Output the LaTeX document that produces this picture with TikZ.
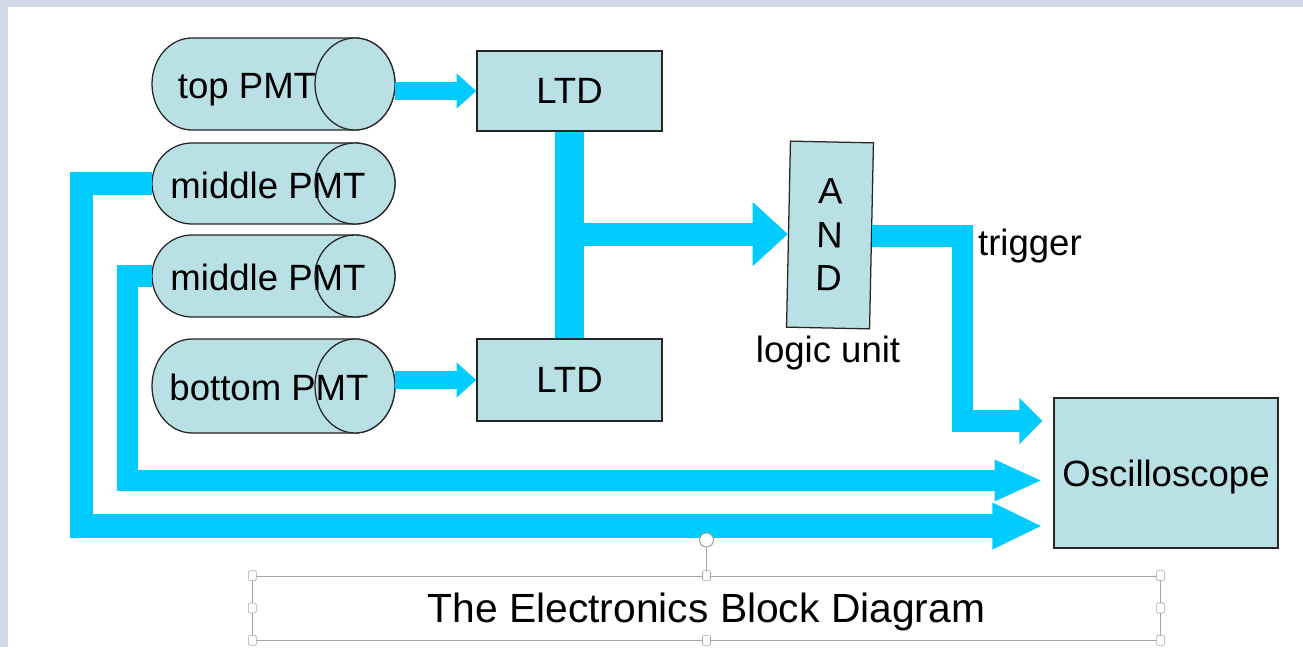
\documentclass[tikz,border=0pt]{standalone}
\usepackage{fontspec}
\setmainfont{Liberation Sans}
\usetikzlibrary{arrows.meta,positioning}

\definecolor{boxfill}{RGB}{185,224,228}
\definecolor{sigcyan}{RGB}{0,204,255}
\definecolor{bgblue}{RGB}{206,216,230}
\definecolor{handlegray}{RGB}{165,165,165}

\newcommand*{\lblsize}{\fontsize{26}{31}\selectfont}
\newcommand*{\titlesize}{\fontsize{29}{34}\selectfont}

% PMT tube lying on its side: name, centre y, half height, label x, label
\newcommand*{\pmt}[5]{%
	\filldraw[tube] (192,#2+#3) -- (355,#2+#3) arc (90:-90:40 and #3)
		-- (192,#2-#3) arc (270:90:40 and #3) -- cycle;
	\draw[tube] (355,#2) ellipse (40 and #3);
	\node[lbl,text depth=0pt] (#1) at (#4,#2-1.5) {#5};
	\coordinate (#1-in) at (152,#2);
	\coordinate (#1-out) at (395,#2);
}

\begin{document}
\begin{tikzpicture}
[
	x=0.025cm, y=0.025cm,
	tube/.style={draw=black!85,fill=boxfill,line width=0.9pt},
	lbl/.style={font=\lblsize,inner sep=2pt},
	box/.style={draw=black!85,fill=boxfill,line width=0.9pt,font=\lblsize,inner sep=2pt,text depth=0pt},
	sig/.style={draw=sigcyan,line width=#1},
	handle/.style={draw=handlegray,fill=white,rounded corners=1pt,inner sep=0pt,minimum width=0.2cm,minimum height=0.25cm}
]

	\useasboundingbox (0,0) rectangle (1303,647);
	\fill[bgblue] (0,0) rectangle (1303,647);
	\fill[white] (8,0) rectangle (1303,640);

	% photomultipliers
	\pmt{toppmt}{563}{46}{247}{top PMT}
	\pmt{midpmta}{463.5}{40.5}{268}{middle PMT}
	\pmt{midpmtb}{371}{41}{268}{middle PMT}
	\pmt{botpmt}{261}{47}{269}{bottom PMT}

	% electronics
	\node[box,minimum width=4.625cm,minimum height=2cm] (ltdtop) at (569.5,556) {LTD};
	\node[box,minimum width=4.625cm,minimum height=2.05cm] (ltdbot) at (569.5,267) {LTD};
	\node[box,rotate=-1.2,minimum width=2.075cm,minimum height=4.65cm,align=center] (andgate) at (830,412) {A\\N\\D};
	\node[lbl,below=3pt of andgate] (logic) {logic unit};
	\node[box,minimum width=5.6cm,minimum height=3.75cm] (osc) at (1166,174) {Oscilloscope};
	\node[lbl,anchor=west] (trig) at (975,401) {trigger};

	\coordinate (trigbend) at (962.5,226);
	\coordinate (innerbend) at (127.5,166.5);
	\coordinate (outerbend) at (81.5,121);

	% signal paths
	\draw[sig=12.8pt,-{Triangle[length=14pt,width=24pt]}] (toppmt-out |- ltdtop) -- (ltdtop.west);
	\draw[sig=12.8pt,-{Triangle[length=14pt,width=24pt]}] (botpmt-out |- ltdbot) -- (ltdbot.west);
	\draw[sig=21.3pt] (ltdtop.south) -- (ltdbot.north);
	\draw[sig=16.4pt,-{Triangle[length=25pt,width=44pt]}] (ltdtop.south |- andgate.west) -- (andgate.west);
	\draw[sig=15.6pt,-{Triangle[length=16.4pt,width=32pt]},shorten >=7.8pt] (andgate.east) -| (trigbend) -- (trigbend -| osc.west);
	\draw[sig=15.6pt,-{Triangle[length=34pt,width=27pt]},shorten >=7.8pt] (midpmtb-in) -| (innerbend) -- (innerbend -| osc.west);
	\draw[sig=17pt,-{Triangle[length=35.6pt,width=30.6pt]},shorten >=7.8pt] (midpmta-in) -| (outerbend) -- (outerbend -| osc.west);

	% caption with its selection frame
	\node[draw=handlegray,line width=0.6pt,minimum width=22.675cm,minimum height=1.6cm,font=\titlesize,text depth=0pt] (title) at (706.5,39) {The Electronics Block Diagram};
	\node[circle,draw=handlegray,fill=white,line width=0.8pt,minimum size=0.35cm,inner sep=0pt,above=0.7cm of title] (rothandle) {};
	\draw[handlegray,line width=0.6pt] (rothandle) -- (title.north);
	\foreach \a in {north west,north,north east,east,south east,south,south west,west}
		\node[handle] at (title.\a) {};

\end{tikzpicture}
\end{document}
